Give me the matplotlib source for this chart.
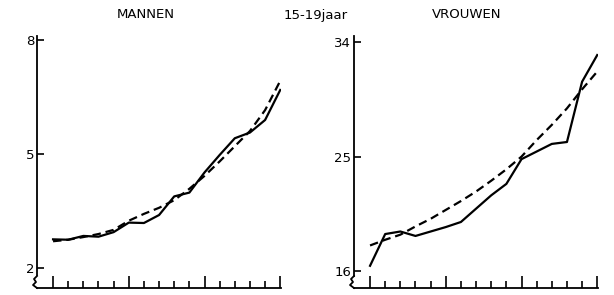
import numpy as np
import matplotlib.pyplot as plt
from matplotlib.ticker import FixedLocator

# 16 time points on the x axis (no labels in the original)
x = np.arange(16)

men_observed = [2.75, 2.74, 2.84, 2.82, 2.94, 3.19, 3.18, 3.39,
                3.88, 3.98, 4.51, 4.97, 5.41, 5.56, 5.89, 6.68]
men_trend = [2.70, 2.74, 2.81, 2.89, 3.00, 3.24, 3.42, 3.58,
             3.78, 4.08, 4.42, 4.80, 5.20, 5.60, 6.15, 6.92]

women_observed = [16.4, 18.9, 19.1, 18.75, 19.1, 19.45, 19.85, 20.9,
                  21.95, 22.85, 24.8, 25.4, 26.0, 26.15, 30.9, 33.0]
women_trend = [18.0, 18.45, 18.85, 19.5, 20.1, 20.8, 21.5, 22.25,
               23.1, 24.0, 25.0, 26.3, 27.5, 28.8, 30.3, 31.7]

men_ticks = [2, 5, 8]
women_ticks = [16, 25, 34]

W, H = 614, 295
fig = plt.figure(figsize=(W / 100, H / 100), dpi=100)
plt.rcParams['font.family'] = 'DejaVu Sans'


def make_panel(left_px, right_px, ylim, yticks, spine_low, obs, trend):
    ax = fig.add_axes([left_px / W, 7 / H, (right_px - left_px) / W, 252 / H])
    ax.set_xlim(-1.06, 15.05)
    ax.set_ylim(*ylim)
    ax.plot(x, obs, color='black', lw=1.6, solid_joinstyle='round')
    ax.plot(x, trend, color='black', lw=1.6, dashes=(3.8, 2.2))
    for s in ['top', 'right']:
        ax.spines[s].set_visible(False)
    ax.spines['left'].set_bounds(spine_low, ylim[1])
    ax.spines['left'].set_linewidth(1.3)
    ax.spines['bottom'].set_linewidth(1.3)
    ax.yaxis.set_major_locator(FixedLocator(yticks))
    ax.tick_params(axis='y', direction='in', length=5, width=1.2,
                   labelsize=9.5, pad=2)
    ax.set_xticks([i for i in x if i % 5 != 0], minor=True)
    ax.set_xticks([0, 5, 10, 15])
    ax.set_xticklabels([])
    ax.tick_params(axis='x', which='major', direction='in', length=9, width=1.2)
    ax.tick_params(axis='x', which='minor', direction='in', length=5, width=1.2)
    # axis break squiggle between the y axis and the x axis
    trans = ax.transAxes
    hgt = 252.0
    wid = right_px - left_px
    sx = [0, -3 / wid, -1 / wid, -4 / wid, 0]
    sy = [12 / hgt, 9 / hgt, 6 / hgt, 3 / hgt, 0]
    ax.plot(sx, sy, color='black', lw=1.3, transform=trans, clip_on=False)
    return ax


make_panel(37, 281, (1.47, 8.1), men_ticks, 1.82, men_observed, men_trend)
make_panel(354, 598, (14.65, 34.5), women_ticks, 15.6, women_observed, women_trend)

fig.text(146 / W, 1 - 15 / H, 'MANNEN', ha='center', va='center', fontsize=9.5)
fig.text(316 / W, 1 - 15 / H, '15-19jaar', ha='center', va='center', fontsize=9.5)
fig.text(467 / W, 1 - 15 / H, 'VROUWEN', ha='center', va='center', fontsize=9.5)

fig.savefig('out.png', dpi=100)
